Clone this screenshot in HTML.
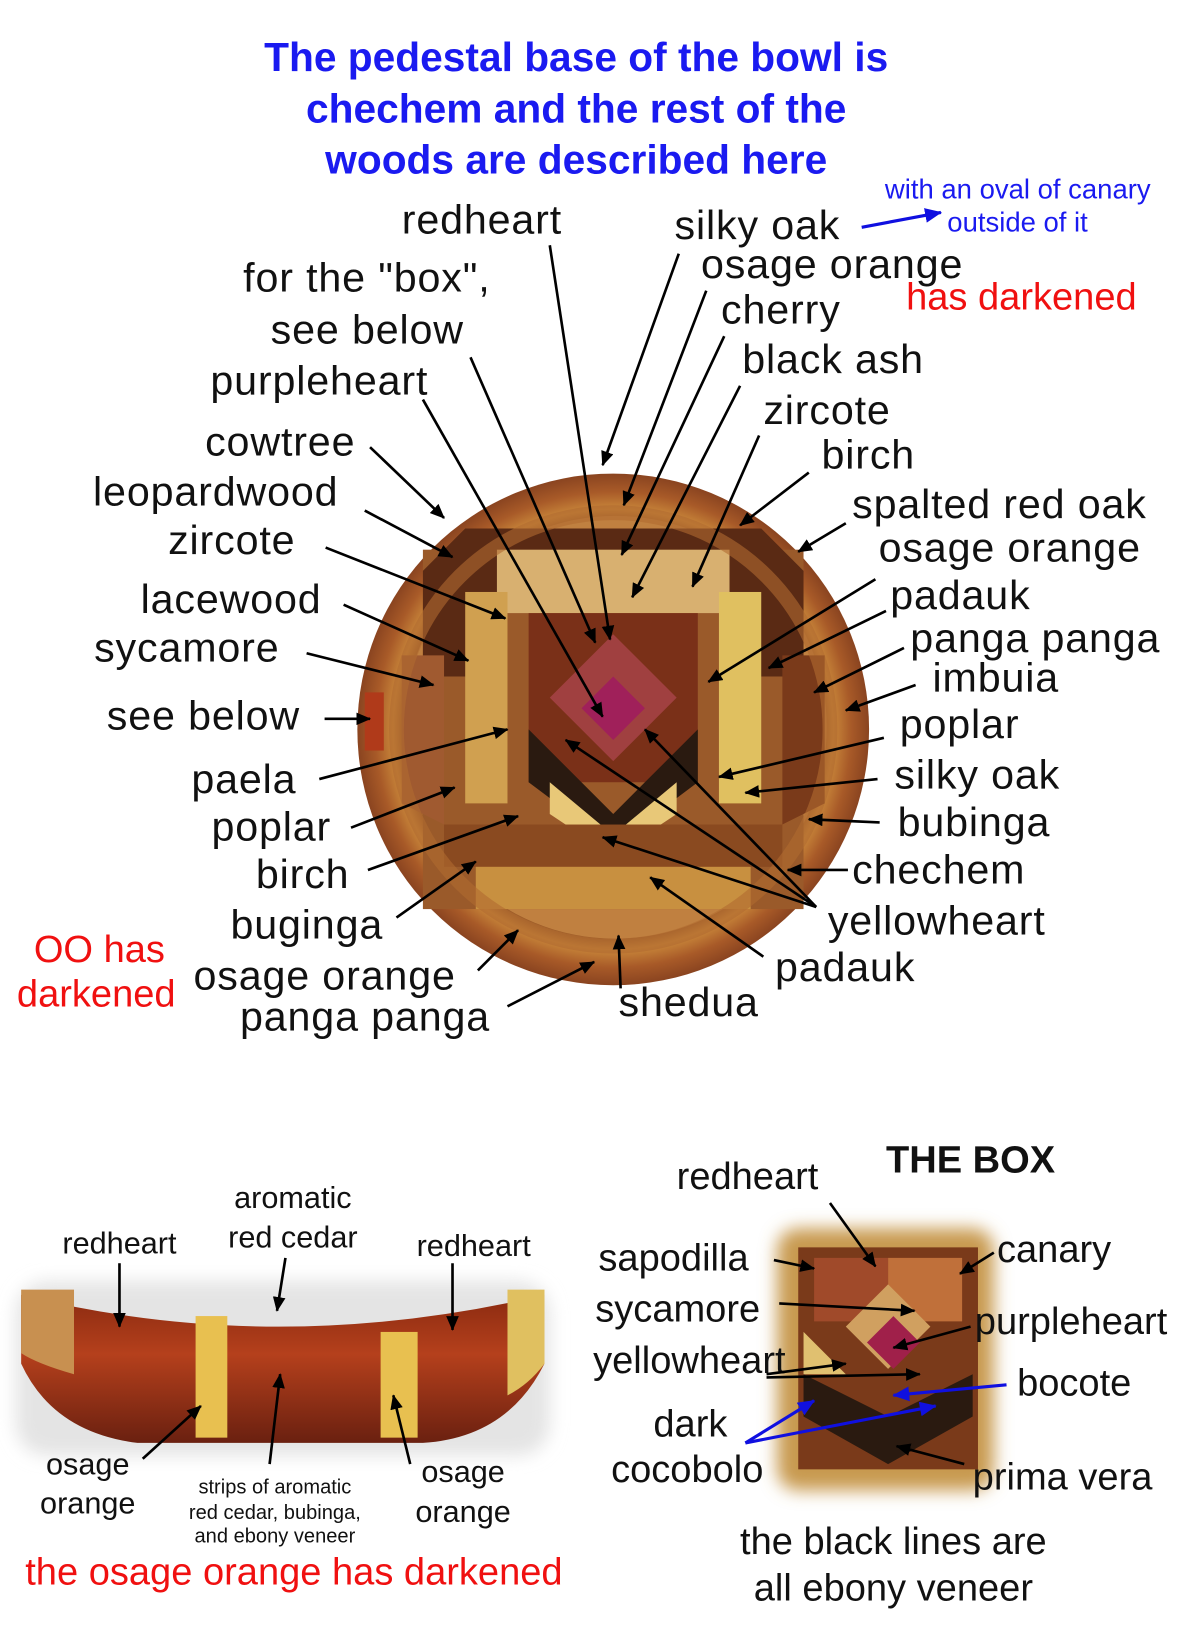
<!DOCTYPE html>
<html><head><meta charset="utf-8"><style>
html,body{margin:0;padding:0;background:#fff;}
svg{display:block;}
text{font-family:"Liberation Sans",Arial,sans-serif;}
</style></head><body>
<svg width="1200" height="1648" viewBox="0 0 1135 1559" preserveAspectRatio="none" xmlns="http://www.w3.org/2000/svg">
<defs>
<marker id="a" markerWidth="14" markerHeight="12" refX="13" refY="6" orient="auto" markerUnits="userSpaceOnUse" viewBox="0 0 14 12"><path d="M0,0 L14,6 L0,12 z" fill="#000"/></marker>
<marker id="ab" markerWidth="16" markerHeight="14" refX="15" refY="7" orient="auto" markerUnits="userSpaceOnUse" viewBox="0 0 16 14"><path d="M0,0 L16,7 L0,14 z" fill="#1010e0"/></marker>
<radialGradient id="rim" cx="0.5" cy="0.5" r="0.5">
<stop offset="0.78" stop-color="#7a3a1a"/><stop offset="0.86" stop-color="#c8863a"/><stop offset="0.93" stop-color="#a85a28"/><stop offset="1" stop-color="#8a4420"/></radialGradient>
<linearGradient id="side" x1="0" y1="0" x2="0" y2="1"><stop offset="0" stop-color="#8a2a10"/><stop offset="0.4" stop-color="#b5401c"/><stop offset="1" stop-color="#6a2010"/></linearGradient>
<filter id="bl"><feGaussianBlur stdDeviation="8"/></filter>
</defs>

<g font-weight="bold" font-size="38.5" fill="#1a1af0" text-anchor="middle">
<text x="545" y="67">The pedestal base of the bowl is</text>
<text x="545" y="116">chechem and the rest of the</text>
<text x="545" y="164">woods are described here</text>
</g>
<g font-size="26" fill="#1a1af0"><text x="837" y="188">with an oval of canary</text><text x="896" y="219">outside of it</text></g>
<line x1="815" y1="215" x2="890" y2="201" stroke="#1010e0" stroke-width="3" marker-end="url(#ab)"/>

<circle cx="580" cy="690" r="242" fill="url(#rim)"/>
<circle cx="582" cy="688" r="200" fill="#c08040"/>
<g>
<rect x="400" y="520" width="360" height="340" fill="#9a5a2a"/>
<polygon points="440,500 720,500 760,540 760,640 700,640 700,560 460,560 460,640 400,640 400,540" fill="#5a2a14"/>
<rect x="470" y="520" width="220" height="60" fill="#d8b070"/>
<rect x="440" y="560" width="40" height="200" fill="#d0a050"/>
<rect x="680" y="560" width="40" height="200" fill="#e0c060"/>
<polygon points="500,580 660,580 660,740 500,740" fill="#7a3018"/>
<polygon points="580,600 640,660 580,720 520,660" fill="#a04040"/>
<polygon points="580,640 610,670 580,700 550,670" fill="#a0205a"/>
<polygon points="500,690 580,770 660,690 660,740 580,800 500,740" fill="#2a1a10"/>
<polygon points="520,740 580,790 640,740 640,770 580,810 520,770" fill="#e8c878"/>
<rect x="420" y="780" width="320" height="40" fill="#8a4a20"/>
<rect x="450" y="820" width="260" height="40" fill="#c89040"/>
<polygon points="380,620 420,620 420,780 380,760" fill="#a05a30"/>
<polygon points="740,620 780,620 780,760 740,780" fill="#7a3a1a"/>
</g>
<circle cx="580" cy="690" r="205" fill="none" stroke="#b06a30" stroke-width="14" opacity="0.6"/>
<rect x="345" y="655" width="18" height="55" fill="#b03a1a"/>

<g font-size="39" letter-spacing="0.8" fill="#111">
<text x="380" y="221">redheart</text>
<text x="638" y="226">silky oak</text>
<text x="663" y="263">osage orange</text>
<text x="682" y="306">cherry</text>
<text x="702" y="353">black ash</text>
<text x="722" y="401">zircote</text>
<text x="777" y="443">birch</text>
<text x="806" y="490">spalted red oak</text>
<text x="831" y="531">osage orange</text>
<text x="842" y="576">padauk</text>
<text x="861" y="617">panga panga</text>
<text x="882" y="654">imbuia</text>
<text x="851" y="698">poplar</text>
<text x="846" y="746">silky oak</text>
<text x="849" y="791">bubinga</text>
<text x="806" y="836">chechem</text>
<text x="783" y="884">yellowheart</text>
<text x="733" y="928">padauk</text>
<text x="585" y="961">shedua</text>
<text x="230" y="276">for the "box",</text>
<text x="256" y="325">see below</text>
<text x="199" y="373">purpleheart</text>
<text x="194" y="431">cowtree</text>
<text x="88" y="478">leopardwood</text>
<text x="159" y="524">zircote</text>
<text x="133" y="580">lacewood</text>
<text x="89" y="626">sycamore</text>
<text x="101" y="690">see below</text>
<text x="181" y="750">paela</text>
<text x="200" y="795">poplar</text>
<text x="242" y="840">birch</text>
<text x="218" y="888">buginga</text>
<text x="183" y="936">osage orange</text>
<text x="227" y="975">panga panga</text>
</g>
<g font-size="36" fill="#f01010">
<text x="857" y="293">has darkened</text>
<text x="32" y="910">OO has</text>
<text x="16" y="952">darkened</text>
</g>

<g stroke="#000" stroke-width="2.5" marker-end="url(#a)" fill="none">
<line x1="520" y1="232" x2="577" y2="605"/>
<line x1="445" y1="338" x2="563" y2="608"/>
<line x1="400" y1="378" x2="570" y2="678"/>
<line x1="642" y1="240" x2="570" y2="440"/>
<line x1="668" y1="275" x2="590" y2="478"/>
<line x1="685" y1="318" x2="588" y2="525"/>
<line x1="700" y1="365" x2="598" y2="565"/>
<line x1="718" y1="412" x2="655" y2="555"/>
<line x1="765" y1="447" x2="700" y2="497"/>
<line x1="800" y1="495" x2="755" y2="522"/>
<line x1="828" y1="548" x2="670" y2="645"/>
<line x1="838" y1="578" x2="727" y2="632"/>
<line x1="855" y1="613" x2="770" y2="655"/>
<line x1="866" y1="648" x2="800" y2="672"/>
<line x1="836" y1="698" x2="680" y2="735"/>
<line x1="830" y1="737" x2="705" y2="750"/>
<line x1="832" y1="778" x2="765" y2="775"/>
<line x1="802" y1="823" x2="745" y2="823"/>
<line x1="772" y1="858" x2="535" y2="700"/>
<line x1="772" y1="858" x2="610" y2="690"/>
<line x1="772" y1="858" x2="570" y2="792"/>
<line x1="722" y1="905" x2="615" y2="830"/>
<line x1="587" y1="935" x2="585" y2="885"/>
<line x1="350" y1="423" x2="420" y2="490"/>
<line x1="345" y1="483" x2="428" y2="527"/>
<line x1="308" y1="518" x2="478" y2="585"/>
<line x1="325" y1="572" x2="443" y2="625"/>
<line x1="290" y1="618" x2="410" y2="648"/>
<line x1="307" y1="680" x2="350" y2="680"/>
<line x1="302" y1="737" x2="480" y2="690"/>
<line x1="332" y1="783" x2="430" y2="745"/>
<line x1="348" y1="823" x2="490" y2="772"/>
<line x1="375" y1="868" x2="450" y2="815"/>
<line x1="452" y1="918" x2="490" y2="880"/>
<line x1="480" y1="952" x2="562" y2="910"/>
</g>

<rect x="15" y="1212" width="505" height="165" rx="30" fill="#e4e4e4" filter="url(#bl)"/>
<path d="M20,1225 Q260,1285 515,1225 L515,1290 Q480,1360 400,1365 L130,1365 Q50,1355 20,1290 Z" fill="url(#side)"/>
<path d="M20,1220 L70,1220 L70,1300 Q35,1290 20,1280 Z" fill="#c89050"/>
<rect x="185" y="1245" width="30" height="115" fill="#e8c050"/>
<rect x="360" y="1260" width="35" height="100" fill="#e8c050"/>
<path d="M480,1220 L515,1220 L515,1290 Q500,1310 480,1320 Z" fill="#e0c060"/>
<g font-size="29" fill="#111" text-anchor="middle">
<text x="277" y="1143">aromatic</text>
<text x="277" y="1180">red cedar</text>
<text x="113" y="1186">redheart</text>
<text x="448" y="1188">redheart</text>
<text x="83" y="1395">osage</text>
<text x="83" y="1432">orange</text>
<text x="438" y="1402">osage</text>
<text x="438" y="1440">orange</text>
</g>
<g font-size="19" fill="#111" text-anchor="middle">
<text x="260" y="1413">strips of aromatic</text>
<text x="260" y="1437">red cedar, bubinga,</text>
<text x="260" y="1459">and ebony veneer</text>
</g>
<text x="278" y="1499" font-size="36" fill="#f01010" text-anchor="middle">the osage orange has darkened</text>
<g stroke="#000" stroke-width="2.5" marker-end="url(#a)">
<line x1="113" y1="1195" x2="113" y2="1255"/>
<line x1="270" y1="1190" x2="262" y2="1240"/>
<line x1="428" y1="1195" x2="428" y2="1258"/>
<line x1="135" y1="1380" x2="190" y2="1330"/>
<line x1="255" y1="1385" x2="265" y2="1300"/>
<line x1="388" y1="1385" x2="372" y2="1320"/>
</g>

<rect x="735" y="1162" width="205" height="248" rx="20" fill="#c89a50" filter="url(#bl)"/>
<rect x="755" y="1180" width="170" height="210" fill="#7a3a1a"/>
<polygon points="770,1190 840,1190 840,1250 770,1250" fill="#a04a2a"/>
<polygon points="840,1190 910,1190 910,1250 840,1250" fill="#c0703a"/>
<polygon points="840,1215 880,1255 840,1295 800,1255" fill="#d0a060"/>
<polygon points="845,1245 870,1270 845,1295 820,1270" fill="#a0204a"/>
<polygon points="760,1300 840,1340 920,1300 920,1340 840,1385 760,1340" fill="#2a1a10"/>
<polygon points="760,1260 800,1300 760,1300" fill="#e0c070"/>
<g font-size="36" fill="#111">
<text x="918" y="1109" font-weight="bold" text-anchor="middle">THE BOX</text>
<text x="640" y="1125">redheart</text>
<text x="566" y="1202">sapodilla</text>
<text x="563" y="1250">sycamore</text>
<text x="561" y="1299">yellowheart</text>
<text x="618" y="1359">dark</text>
<text x="578" y="1402">cocobolo</text>
<text x="943" y="1194">canary</text>
<text x="922" y="1262">purpleheart</text>
<text x="962" y="1320">bocote</text>
<text x="920" y="1409">prima vera</text>
<text x="845" y="1470" text-anchor="middle">the black lines are</text>
<text x="845" y="1514" text-anchor="middle">all ebony veneer</text>
</g>
<g stroke="#000" stroke-width="2.5" marker-end="url(#a)">
<line x1="785" y1="1138" x2="828" y2="1198"/>
<line x1="732" y1="1192" x2="770" y2="1200"/>
<line x1="737" y1="1233" x2="865" y2="1240"/>
<line x1="725" y1="1300" x2="800" y2="1290"/>
<line x1="725" y1="1303" x2="870" y2="1300"/>
<line x1="940" y1="1185" x2="908" y2="1205"/>
<line x1="918" y1="1255" x2="845" y2="1275"/>
<line x1="912" y1="1385" x2="848" y2="1368"/>
</g>
<g stroke="#1010e0" stroke-width="3" marker-end="url(#ab)">
<line x1="952" y1="1310" x2="845" y2="1320"/>
<line x1="705" y1="1365" x2="770" y2="1325"/>
<line x1="705" y1="1365" x2="885" y2="1330"/>
</g>
</svg>
</body></html>
